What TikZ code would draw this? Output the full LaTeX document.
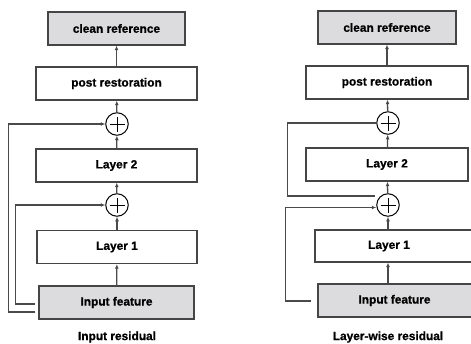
\documentclass[tikz,border=0pt]{standalone}
\usepackage{fontspec}
\setmainfont{Liberation Sans}
\newfontfamily\heavy{Liberation Sans}[BoldFeatures={FakeBold=0.8}]
\usetikzlibrary{arrows.meta}
\definecolor{boxgray}{HTML}{DCDCDE}
\definecolor{edgegray}{HTML}{454545}
\definecolor{linegray}{HTML}{4A4A4A}
\tikzset{
  lbl/.style={font=\heavy\bfseries\fontsize{11.9}{13}\selectfont},
  blk/.style={lbl, draw=edgegray, line width=1.4pt, fill=white, minimum height=33pt, inner sep=0pt},
  gblk/.style={blk, fill=boxgray},
  sumnode/.style={circle, draw=black, line width=1pt, minimum size=22.5pt, inner sep=0pt,
    path picture={\draw[black, line width=0.9pt]
      ([xshift=-7.5pt]path picture bounding box.center) -- ([xshift=7.5pt]path picture bounding box.center)
      ([yshift=-7.5pt]path picture bounding box.center) -- ([yshift=7.5pt]path picture bounding box.center);}},
  flow/.style={draw=linegray, line width=1.3pt, -{Latex[length=4.5pt,width=4pt]}},
  skip/.style={draw=linegray, line width=1.3pt, -{Latex[length=4.5pt,width=4pt]}},
  plainskip/.style={draw=linegray, line width=1.3pt},
  ttl/.style={lbl},
}
\begin{document}
\begin{tikzpicture}[x=1pt,y=-1pt]
\useasboundingbox (0,0) rectangle (471,343);
% ---- left panel ----
\node[gblk, minimum width=137pt] (cleanL) at (116.5,28.5) {clean reference};
\node[blk, minimum width=161pt] (postL) at (116.5,83.5) {post restoration};
\node[sumnode] (sumTL) at (117,124) {};
\node[blk, minimum width=161pt] (lay2L) at (116.5,165.5) {Layer 2};
\node[sumnode] (sumBL) at (117,205) {};
\node[blk, minimum width=160pt] (lay1L) at (117,247) {Layer 1};
\node[gblk, minimum width=155pt] (inL) at (116.5,302.5) {Input feature};
\node[ttl] (tL) at (117,337) {Input residual};
\draw[flow] (inL) -- (lay1L);
\draw[flow] (lay1L) -- (sumBL);
\draw[flow] (sumBL) -- (lay2L);
\draw[flow] (lay2L) -- (sumTL);
\draw[flow] (sumTL) -- (postL);
\draw[flow] (postL) -- (cleanL);
\draw[skip] ([xshift=-3pt,yshift=-9.5pt]inL.west) -- ++(-27,0) |- (sumTL.west);
\draw[skip] ([xshift=-3pt,yshift=-1.5pt]inL.west) -- ++(-20,0) |- (sumBL.west);
% ---- right panel ----
\node[gblk, minimum width=138pt] (cleanR) at (387,27.5) {clean reference};
\node[blk, minimum width=162pt] (postR) at (387,82.5) {post restoration};
\node[sumnode] (sumTR) at (388,123) {};
\node[blk, minimum width=162pt] (lay2R) at (387,164.5) {Layer 2};
\node[sumnode] (sumBR) at (388,205) {};
\node[blk, minimum width=165pt, minimum height=32pt] (lay1R) at (397.5,246) {\hspace*{-17pt}Layer 1};
\node[gblk, minimum width=162pt] (inR) at (399,300.5) {\hspace*{-9pt}Input feature};
\node[ttl] (tR) at (388,337) {Layer-wise residual};
\draw[flow] (inR.north -| sumBR) -- (lay1R.south -| sumBR);
\draw[flow] (lay1R.north -| sumBR) -- (sumBR);
\draw[flow] (sumBR) -- (lay2R);
\draw[flow] (lay2R) -- (sumTR);
\draw[flow] (sumTR) -- (postR);
\draw[flow] (postR) -- (cleanR);
\coordinate (tapR) at ([xshift=-1.5pt,yshift=9pt]sumBR.west);
\draw[plainskip] (tapR) -- ++(-87,0) |- (sumTR.west);
\draw[skip] ([xshift=-6pt,yshift=-0.5pt]inR.west) -- ++(-26,0) |- ([yshift=-2.5pt]sumBR.west);
\end{tikzpicture}
\end{document}
